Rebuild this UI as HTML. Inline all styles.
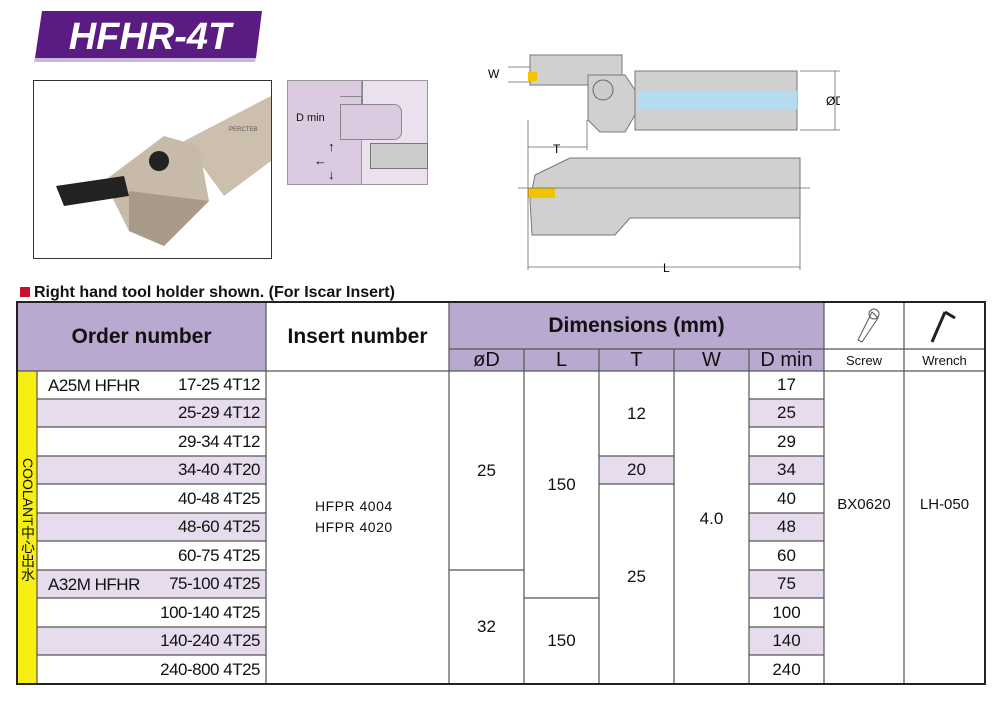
<!DOCTYPE html>
<html><head><meta charset="utf-8"><style>
body{margin:0;width:1000px;height:701px;background:#fff;position:relative;overflow:hidden;font-family:"Liberation Sans",sans-serif;color:#111}
.a{position:absolute;box-sizing:border-box}
.c{position:absolute;box-sizing:border-box;display:flex;align-items:center;justify-content:center;font-size:17px}
.r{justify-content:flex-end;padding-right:6px}
</style></head><body>
<!-- title -->
<svg class="a" style="left:30px;top:8px" width="240" height="56"><polygon points="12,3 232,3 226,50 5,50" fill="#5a1c82" rx="6"/><polygon points="5,50 226,50 225,54 4,54" fill="#c9b7dc"/>
<text x="120" y="41" text-anchor="middle" font-family="Liberation Sans" font-weight="bold" font-style="italic" font-size="38" fill="#fff">HFHR-4T</text></svg>
<!-- photo -->
<div class="a" style="left:33px;top:80px;width:239px;height:179px;border:1px solid #333"></div>
<svg class="a" style="left:34px;top:81px" width="237" height="177">
<polygon points="150,60 237,15 237,80 190,115" fill="#cdbfae"/>
<polygon points="70,100 130,55 165,65 175,120 130,165 95,150" fill="#c8baa8"/>
<polygon points="95,110 175,120 130,165 95,150" fill="#a89a88"/>
<polygon points="22,105 90,95 95,115 30,125" fill="#222"/>
<circle cx="125" cy="80" r="10" fill="#222"/><text x="195" y="50" font-size="6" fill="#555">PERCTEB</text></svg>
<!-- D min diagram -->
<div class="a" style="left:287px;top:80px;width:75px;height:105px;background:#dccbe0;border:1px solid #999"></div>
<div class="a" style="left:362px;top:80px;width:66px;height:105px;background:#ebe0ee;border:1px solid #999;border-left:none"></div>
<div class="a" style="left:340px;top:104px;width:62px;height:36px;background:#dccbe0;border:1px solid #888;border-radius:0 8px 8px 0"></div>
<div class="a" style="left:362px;top:80px;width:0;height:24px;border-left:1px solid #888"></div>
<div class="a" style="left:340px;top:96px;width:22px;height:8px;border-top:1px solid #888;border-right:1px solid #888"></div>
<div class="a" style="left:370px;top:143px;width:58px;height:26px;background:#ccc;border:1px solid #777"></div>
<div class="a" style="left:296px;top:112px;font-size:11px">D min</div>
<div class="a" style="left:328px;top:140px;font-size:13px;line-height:14px">↑<br><span style="margin-left:-14px">←</span><br>↓</div>
<!-- technical drawing -->
<svg class="a" style="left:480px;top:30px" width="360" height="250">
<g fill="#d0d0d0" stroke="#777" stroke-width="1">
<rect x="50" y="25" width="92" height="30"/>
<polygon points="108,45 145,45 155,60 155,85 145,102 120,102 108,90"/>
<rect x="155" y="41" width="162" height="59"/>
<polygon points="50,170 55,145 90,128 320,128 320,188 150,188 135,205 52,205"/>
</g>
<rect x="157" y="61" width="160" height="18" fill="#b3dcf2"/>
<circle cx="123" cy="60" r="10" fill="#ccc" stroke="#666"/>
<rect x="48" y="42" width="9" height="9" fill="#f2c400"/>
<rect x="48" y="158" width="27" height="10" fill="#f2c400"/>
<g stroke="#666" stroke-width="0.8" fill="none">
<line x1="28" y1="37" x2="50" y2="37"/><line x1="28" y1="52" x2="50" y2="52"/>
<line x1="48" y1="90" x2="48" y2="240"/><line x1="107" y1="90" x2="107" y2="120"/>
<line x1="48" y1="117" x2="107" y2="117"/><line x1="48" y1="237" x2="320" y2="237"/>
<line x1="320" y1="188" x2="320" y2="240"/><line x1="320" y1="41" x2="360" y2="41"/><line x1="320" y1="100" x2="360" y2="100"/>
<line x1="355" y1="41" x2="355" y2="100"/><line x1="38" y1="158" x2="330" y2="158"/></g>
<text x="8" y="48" font-size="12">W</text><text x="73" y="123" font-size="12">T</text><text x="183" y="242" font-size="12">L</text><text x="346" y="75" font-size="12">ØD</text>
</svg>
<div class="a" style="left:20px;top:284px;font-size:16px;font-weight:bold"><span style="display:inline-block;width:10px;height:10px;background:#c8102e;margin-right:4px"></span>Right hand tool holder shown. (For Iscar Insert)</div>

<!-- table -->
<div class="a" style="left:17px;top:302px;width:432px;height:47px;background:#b9a8d0"></div>
<div class="a" style="left:17px;top:349px;width:249px;height:22px;background:#b9a8d0"></div>
<div class="a" style="left:449px;top:302px;width:375px;height:69px;background:#b9a8d0"></div>
<div class="a" style="left:266px;top:302px;width:183px;height:69px;background:#fff"></div>
<div class="a" style="left:17px;top:371px;width:20px;height:313px;background:#f7ee13"></div>
<div class="a" style="left:37px;top:399px;width:229px;height:28px;background:#e6dced"></div>
<div class="a" style="left:37px;top:456px;width:229px;height:28px;background:#e6dced"></div>
<div class="a" style="left:37px;top:513px;width:229px;height:28px;background:#e6dced"></div>
<div class="a" style="left:37px;top:570px;width:229px;height:28px;background:#e6dced"></div>
<div class="a" style="left:37px;top:627px;width:229px;height:28px;background:#e6dced"></div>
<div class="a" style="left:749px;top:399px;width:75px;height:28px;background:#e6dced"></div>
<div class="a" style="left:749px;top:456px;width:75px;height:28px;background:#e6dced"></div>
<div class="a" style="left:749px;top:513px;width:75px;height:28px;background:#e6dced"></div>
<div class="a" style="left:749px;top:570px;width:75px;height:28px;background:#e6dced"></div>
<div class="a" style="left:749px;top:627px;width:75px;height:28px;background:#e6dced"></div>
<div class="a" style="left:599px;top:456px;width:75px;height:28px;background:#e6dced"></div>
<svg class="a" style="left:0;top:0" width="1000" height="701"><g stroke="#555" stroke-width="1.2" fill="none">
<line x1="266" y1="302" x2="266" y2="684"/><line x1="449" y1="302" x2="449" y2="684"/><line x1="824" y1="302" x2="824" y2="684"/><line x1="904" y1="302" x2="904" y2="684"/>
<line x1="37" y1="371" x2="37" y2="684"/>
<line x1="524" y1="349" x2="524" y2="684"/><line x1="599" y1="349" x2="599" y2="684"/><line x1="674" y1="349" x2="674" y2="684"/><line x1="749" y1="349" x2="749" y2="684"/>
<line x1="449" y1="349" x2="985" y2="349"/><line x1="17" y1="371" x2="985" y2="371"/>
<line x1="37" y1="399" x2="266" y2="399"/><line x1="37" y1="427" x2="266" y2="427"/><line x1="37" y1="456" x2="266" y2="456"/><line x1="37" y1="484" x2="266" y2="484"/><line x1="37" y1="513" x2="266" y2="513"/><line x1="37" y1="541" x2="266" y2="541"/><line x1="37" y1="570" x2="266" y2="570"/><line x1="37" y1="598" x2="266" y2="598"/><line x1="37" y1="627" x2="266" y2="627"/><line x1="37" y1="655" x2="266" y2="655"/>
<line x1="749" y1="399" x2="824" y2="399"/><line x1="749" y1="427" x2="824" y2="427"/><line x1="749" y1="456" x2="824" y2="456"/><line x1="749" y1="484" x2="824" y2="484"/><line x1="749" y1="513" x2="824" y2="513"/><line x1="749" y1="541" x2="824" y2="541"/><line x1="749" y1="570" x2="824" y2="570"/><line x1="749" y1="598" x2="824" y2="598"/><line x1="749" y1="627" x2="824" y2="627"/><line x1="749" y1="655" x2="824" y2="655"/>
<line x1="449" y1="570" x2="524" y2="570"/><line x1="524" y1="598" x2="599" y2="598"/><line x1="599" y1="456" x2="674" y2="456"/><line x1="599" y1="484" x2="674" y2="484"/>
</g><rect x="17" y="302" width="968" height="382" fill="none" stroke="#222" stroke-width="2"/>
<g stroke="#555" fill="none" stroke-width="1"><path d="M872,312 L878,318 L862,342 L858,340 Z"/><circle cx="874" cy="314" r="5"/><path d="M945,312 L955,318 M945,312 L932,342" stroke-width="3" stroke="#222"/></g></svg>
<div class="c" style="left:17px;top:302px;width:249px;height:69px;font-size:21px;font-weight:bold">Order number</div>
<div class="c" style="left:266px;top:302px;width:183px;height:69px;font-size:21px;font-weight:bold">Insert number</div>
<div class="c" style="left:449px;top:302px;width:375px;height:47px;font-size:21px;font-weight:bold">Dimensions (mm)</div>
<div class="c" style="left:449px;top:349px;width:75px;height:22px;font-size:20px">øD</div>
<div class="c" style="left:524px;top:349px;width:75px;height:22px;font-size:20px">L</div>
<div class="c" style="left:599px;top:349px;width:75px;height:22px;font-size:20px">T</div>
<div class="c" style="left:674px;top:349px;width:75px;height:22px;font-size:20px">W</div>
<div class="c" style="left:749px;top:349px;width:75px;height:22px;font-size:20px">D min</div>
<div class="c" style="left:824px;top:349px;width:80px;height:22px;font-size:13px">Screw</div>
<div class="c" style="left:904px;top:349px;width:81px;height:22px;font-size:13px">Wrench</div>
<div class="a" style="left:19px;top:458px;width:16px;font-size:14px;line-height:15px;writing-mode:vertical-rl;font-family:'Liberation Sans','Noto Sans CJK SC',sans-serif">COOLANT中心出水</div>
<div class="a" style="left:48px;top:376px;font-size:17px;letter-spacing:-0.5px">A25M HFHR</div>
<div class="a" style="left:48px;top:575px;font-size:17px;letter-spacing:-0.5px">A32M HFHR</div>
<div class="c r" style="left:37px;top:371px;width:229px;height:28px;letter-spacing:-0.5px">17-25 4T12</div>
<div class="c r" style="left:37px;top:399px;width:229px;height:28px;letter-spacing:-0.5px">25-29 4T12</div>
<div class="c r" style="left:37px;top:427px;width:229px;height:29px;letter-spacing:-0.5px">29-34 4T12</div>
<div class="c r" style="left:37px;top:456px;width:229px;height:28px;letter-spacing:-0.5px">34-40 4T20</div>
<div class="c r" style="left:37px;top:484px;width:229px;height:29px;letter-spacing:-0.5px">40-48 4T25</div>
<div class="c r" style="left:37px;top:513px;width:229px;height:28px;letter-spacing:-0.5px">48-60 4T25</div>
<div class="c r" style="left:37px;top:541px;width:229px;height:29px;letter-spacing:-0.5px">60-75 4T25</div>
<div class="c r" style="left:37px;top:570px;width:229px;height:28px;letter-spacing:-0.5px">75-100 4T25</div>
<div class="c r" style="left:37px;top:598px;width:229px;height:29px;letter-spacing:-0.5px">100-140 4T25</div>
<div class="c r" style="left:37px;top:627px;width:229px;height:28px;letter-spacing:-0.5px">140-240 4T25</div>
<div class="c r" style="left:37px;top:655px;width:229px;height:29px;letter-spacing:-0.5px">240-800 4T25</div>
<div class="a" style="left:315px;top:496px;font-size:14px;line-height:21px;letter-spacing:0.5px">HFPR 4004<br>HFPR 4020</div>
<div class="c" style="left:449px;top:371px;width:75px;height:199px">25</div>
<div class="c" style="left:449px;top:570px;width:75px;height:114px">32</div>
<div class="c" style="left:524px;top:371px;width:75px;height:227px">150</div>
<div class="c" style="left:524px;top:598px;width:75px;height:86px">150</div>
<div class="c" style="left:599px;top:371px;width:75px;height:85px">12</div>
<div class="c" style="left:599px;top:456px;width:75px;height:28px">20</div>
<div class="c" style="left:599px;top:484px;width:75px;height:186px">25</div>
<div class="c" style="left:674px;top:371px;width:75px;height:295px">4.0</div>
<div class="c" style="left:749px;top:371px;width:75px;height:28px">17</div>
<div class="c" style="left:749px;top:399px;width:75px;height:28px">25</div>
<div class="c" style="left:749px;top:427px;width:75px;height:29px">29</div>
<div class="c" style="left:749px;top:456px;width:75px;height:28px">34</div>
<div class="c" style="left:749px;top:484px;width:75px;height:29px">40</div>
<div class="c" style="left:749px;top:513px;width:75px;height:28px">48</div>
<div class="c" style="left:749px;top:541px;width:75px;height:29px">60</div>
<div class="c" style="left:749px;top:570px;width:75px;height:28px">75</div>
<div class="c" style="left:749px;top:598px;width:75px;height:29px">100</div>
<div class="c" style="left:749px;top:627px;width:75px;height:28px">140</div>
<div class="c" style="left:749px;top:655px;width:75px;height:29px">240</div>
<div class="c" style="left:824px;top:371px;width:80px;height:266px;font-size:15px">BX0620</div>
<div class="c" style="left:904px;top:371px;width:81px;height:266px;font-size:15px">LH-050</div>
</body></html>
